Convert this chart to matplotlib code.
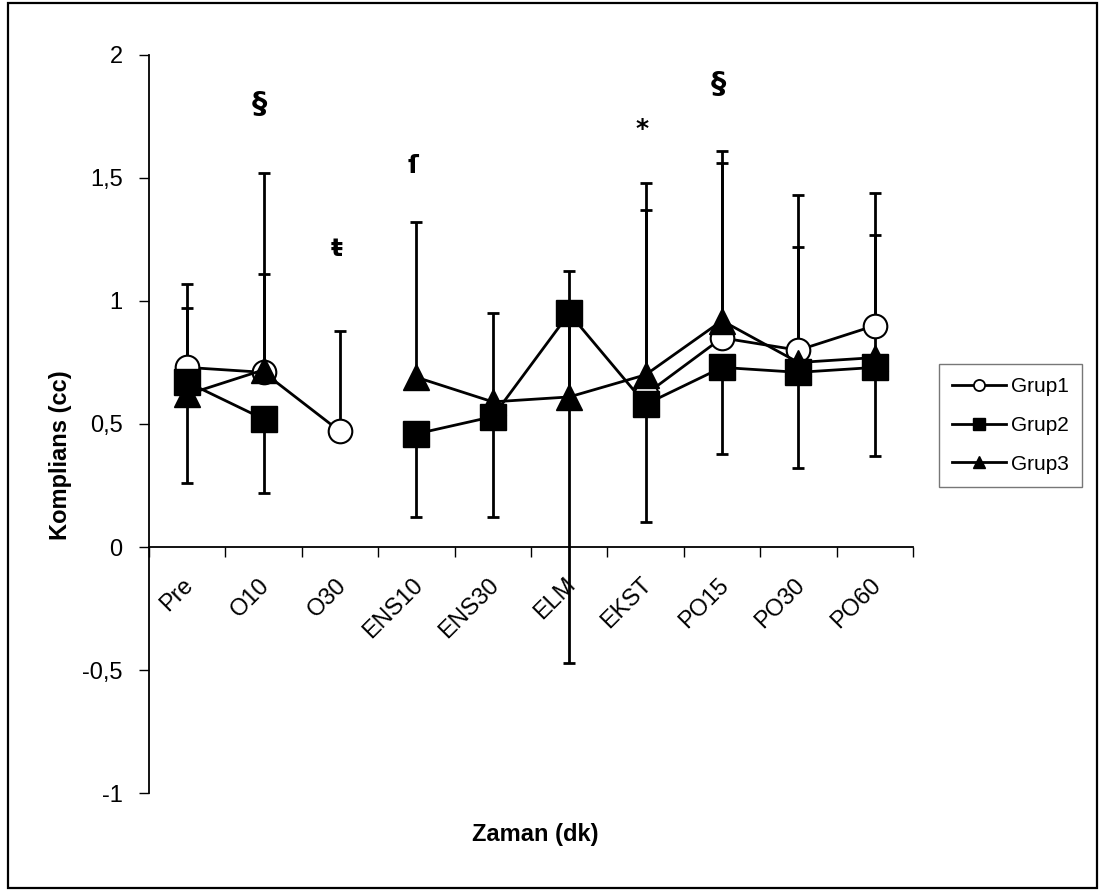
import numpy as np
import matplotlib
matplotlib.use("Agg")
import matplotlib.pyplot as plt
from matplotlib.lines import Line2D
from matplotlib.patches import Rectangle
from matplotlib.ticker import FixedLocator, FuncFormatter
import matplotlib.transforms as mtransforms

plt.rcParams['font.family'] = ['Liberation Sans', 'DejaVu Sans']

categories = ["Pre", "O10", "O30", "ENS10", "ENS30", "ELM", "EKST", "PO15", "PO30", "PO60"]
nan = np.nan
grup1 = [0.73, 0.71, 0.47, nan, nan, nan, 0.62, 0.85, 0.80, 0.90]
grup1_sd_up = [0.34, 0.40, 0.41, nan, nan, nan, 0.75, 0.71, 0.42, 0.37]
grup2 = [0.67, 0.52, nan, 0.46, 0.53, 0.95, 0.58, 0.73, 0.71, 0.73]
grup2_sd_down = [0.41, 0.30, nan, 0.34, 0.41, 1.42, 0.48, 0.35, 0.39, 0.36]
grup3 = [0.62, 0.72, nan, 0.69, 0.59, 0.61, 0.70, 0.92, 0.75, 0.77]
grup3_sd_up = [0.35, 0.80, nan, 0.63, 0.36, 0.51, 0.78, 0.69, 0.68, 0.67]
series_names = ["Grup1", "Grup2", "Grup3"]
yticks = [-1, -0.5, 0, 0.5, 1, 1.5, 2]
# annotations: (text, category index, y value)
annotations = [("§", 1, 1.80), ("ŧ", 2, 1.21), ("ſ", 3, 1.55), ("*", 6, 1.70), ("§", 7, 1.88)]

W, H = 1099, 890
fig = plt.figure(figsize=(W / 100, H / 100), dpi=100)
fig.patch.set_facecolor('white')
fig.patches.append(Rectangle((8 / W, 1 - 888 / H), 1089 / W, 885 / H, transform=fig.transFigure,
                             fill=False, edgecolor='black', linewidth=1.6))

ax = fig.add_axes([149 / W, 1 - 793 / H, 764 / W, 738 / H])
x = np.arange(len(categories))

zeros = np.zeros(len(x))
ekw = dict(fmt='none', ecolor='black', elinewidth=2, capsize=4.3, capthick=2, zorder=1)
ax.errorbar(x, grup1, yerr=[zeros, grup1_sd_up], **ekw)
ax.errorbar(x, grup2, yerr=[grup2_sd_down, zeros], **ekw)
ax.errorbar(x, grup3, yerr=[zeros, grup3_sd_up], **ekw)

ax.plot(x, grup1, color='black', lw=2, marker='o', ms=17, mfc='white', mec='black', mew=1.5, zorder=2)
ax.plot(x, grup2, color='black', lw=2, marker='s', ms=18.5, mfc='black', mec='black', zorder=3)
ax.plot(x, grup3, color='black', lw=2, marker='^', ms=19, mfc='black', mec='black', zorder=4)

for txt, xi, yv in annotations:
    fs = 22 if txt == "§" else 18
    ax.text(xi - 0.05, yv, txt, ha='center', va='center', fontsize=fs, fontweight='bold',
            family=['DejaVu Sans'], zorder=5)

ax.set_xlim(-0.5, 9.5)
ax.set_ylim(-1, 2)
for s in ['top', 'right']:
    ax.spines[s].set_visible(False)
ax.spines['bottom'].set_position(('data', 0))
ax.spines['bottom'].set_linewidth(1.3)
ax.spines['left'].set_linewidth(1.3)

ax.set_yticks(yticks)
ax.yaxis.set_major_formatter(FuncFormatter(lambda v, p: ('%g' % v).replace('.', ',')))
ax.tick_params(axis='y', direction='out', length=7, width=1, pad=12, labelsize=17)

ax.xaxis.set_major_locator(FixedLocator(np.arange(-0.5, 10, 1)))
ax.xaxis.set_major_formatter(FuncFormatter(lambda v, p: ''))
ax.xaxis.set_minor_locator(FixedLocator(x))
ax.set_xticks(x, categories, minor=True)
ax.tick_params(axis='x', which='major', direction='out', length=7, width=1)
ax.tick_params(axis='x', which='minor', length=0, pad=25, labelsize=17)
offset = mtransforms.ScaledTranslation(3 / 100, 0, fig.dpi_scale_trans)
for lab in ax.get_xticklabels(minor=True):
    lab.set_rotation(45)
    lab.set_ha('right')
    lab.set_va('center')
    lab.set_rotation_mode('anchor')
    lab.set_transform(lab.get_transform() + offset)

fig.text(60 / W, 1 - 455 / H, "Komplians (cc)", rotation=90, ha='center', va='center',
         fontsize=17, fontweight='bold')
fig.text(535 / W, 1 - 834 / H, "Zaman (dk)", ha='center', va='center', fontsize=17, fontweight='bold')

handles = [
    Line2D([], [], color='black', lw=2, marker='o', ms=8, mfc='white', mec='black', mew=1.3),
    Line2D([], [], color='black', lw=2, marker='s', ms=8, mfc='black', mec='black'),
    Line2D([], [], color='black', lw=2, marker='^', ms=9, mfc='black', mec='black'),
]
leg = fig.legend(handles, series_names, loc='center',
                 bbox_to_anchor=(937 / W, 1 - 487 / H, 147 / W, 123 / H),
                 fontsize=15, frameon=True, fancybox=False, shadow=False,
                 handlelength=2.55, handletextpad=0.25, labelspacing=0.95, borderpad=0.62)
leg.get_frame().set_edgecolor('#555555')
leg.get_frame().set_linewidth(1)

fig.savefig("out.png", dpi=100)
